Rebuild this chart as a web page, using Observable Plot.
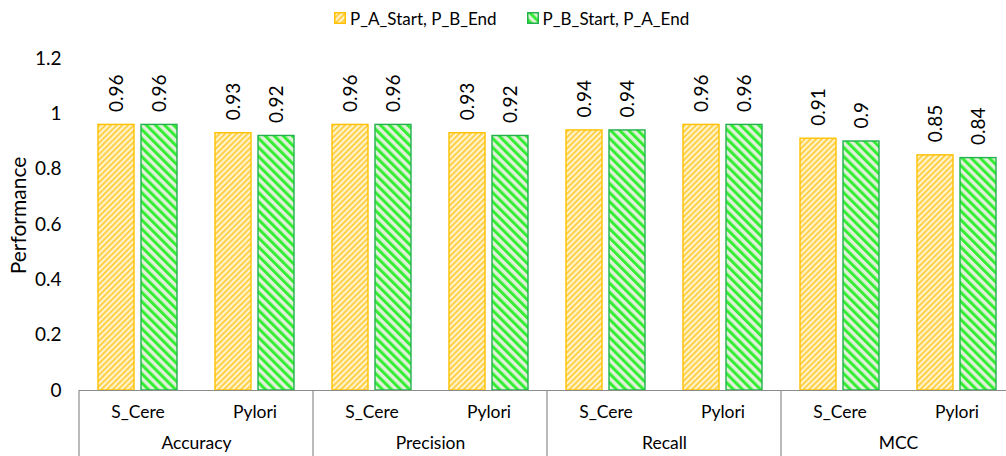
<!DOCTYPE html>
<html>
<head>
<meta charset="utf-8">
<script src="https://cdn.jsdelivr.net/npm/d3@7"></script>
<script src="https://cdn.jsdelivr.net/npm/@observablehq/plot@0.6"></script>
<style>
  html, body { margin: 0; padding: 0; width: 1006px; height: 456px; overflow: hidden; background: #fff; }
  body { font-family: Lato, "Noto Sans", sans-serif; color: #000; }
  #legend { height: 36px; display: flex; align-items: center; padding-left: 334px; font-size: 17px; }
  .item { display: flex; align-items: center; margin-right: 30px; }
  .item svg { margin-right: 4px; }
  #defs { position: absolute; width: 0; height: 0; }
  #chart svg { max-width: none !important; }
</style>
</head>
<body>
<svg id="defs" width="0" height="0">
  <defs>
    <!-- light yellow with fine upward diagonals -->
    <pattern id="pA" patternUnits="userSpaceOnUse" width="4" height="4" patternTransform="rotate(45)">
      <rect width="4" height="4" fill="#FFF2CC"></rect>
      <rect width="1.7" height="4" fill="#FFCC33"></rect>
    </pattern>
    <!-- pale green with wide downward diagonals -->
    <pattern id="pB" patternUnits="userSpaceOnUse" width="6.4" height="6.4" patternTransform="rotate(-45)">
      <rect width="6.4" height="6.4" fill="#E2F0D9"></rect>
      <rect width="3" height="6.4" fill="#33EE33"></rect>
    </pattern>
  </defs>
</svg>
<div id="legend"></div>
<div id="chart"></div>
<script>
const metrics = ["Accuracy", "Precision", "Recall", "MCC"];
const datasets = ["S_Cere", "Pylori"];
const seriesNames = ["P_A_Start, P_B_End", "P_B_Start, P_A_End"];
const seriesA = [0.96, 0.93, 0.96, 0.93, 0.94, 0.96, 0.91, 0.85];
const seriesB = [0.96, 0.92, 0.96, 0.92, 0.94, 0.96, 0.90, 0.84];
const yTicks = [0, 0.2, 0.4, 0.6, 0.8, 1, 1.2];
const yLabel = "Performance";

const fills = ["url(#pA)", "url(#pB)"];
const strokes = ["#FFC000", "#22B14C"];

// One facet per metric/dataset pair
const cats = [];
metrics.forEach(m => datasets.forEach(d => cats.push({key: `${m}|${d}`, metric: m, dataset: d})));
const keys = cats.map(c => c.key);
const rows = [];
cats.forEach((c, i) => {
  rows.push({key: c.key, series: seriesNames[0], value: seriesA[i]});
  rows.push({key: c.key, series: seriesNames[1], value: seriesB[i]});
});
const groupStarts = cats.filter(c => c.dataset === datasets[0]);

// Legend
const legend = d3.select("#legend");
seriesNames.forEach((name, i) => {
  const item = legend.append("div").attr("class", "item");
  const sw = item.append("svg").attr("width", 12).attr("height", 12);
  sw.append("rect").attr("x", 0.75).attr("y", 0.75).attr("width", 10.5).attr("height", 10.5)
    .attr("fill", fills[i]).attr("stroke", strokes[i]).attr("stroke-width", 1.5);
  item.append("span").text(name);
});

const W = 1022, H = 430, mTop = 22, mBottom = 76, mLeft = 78, mRight = 6;
const FS_TICK = 19, FS_VAL = 19, FS_CAT = 17.5, FS_TITLE = 21;

const plot = Plot.plot({
  width: W, height: H,
  marginTop: mTop, marginBottom: mBottom, marginLeft: mLeft, marginRight: mRight,
  style: {fontFamily: "Lato, 'Noto Sans', sans-serif", fontSize: FS_CAT + "px", color: "#000", background: "transparent", overflow: "visible"},
  fx: {domain: keys, padding: 0, axis: null},
  x: {domain: seriesNames, paddingInner: 0.172, paddingOuter: 0.431, axis: null},
  y: {domain: [0, 1.2]},
  marks: [
    Plot.axisY({ticks: yTicks, tickSize: 0, tickPadding: 18, tickFormat: d3.format("~g"), fontSize: FS_TICK, label: null}),
    Plot.text([{key: keys[0], label: yLabel}], {fx: "key", text: "label", frameAnchor: "left",
      textAnchor: "middle", rotate: -90, dx: -60, dy: -9, fontSize: FS_TITLE, fill: "#000"}),
    Plot.barY(rows.filter(r => r.series === seriesNames[0]),
      {fx: "key", x: "series", y: "value", fill: fills[0], stroke: strokes[0], strokeWidth: 1.4}),
    Plot.barY(rows.filter(r => r.series === seriesNames[1]),
      {fx: "key", x: "series", y: "value", fill: fills[1], stroke: strokes[1], strokeWidth: 1.4}),
    Plot.ruleY([0], {stroke: "#8c8c8c", strokeWidth: 1.2}),
    Plot.text(rows, {fx: "key", x: "series", y: "value", text: d => String(d.value),
      rotate: -90, textAnchor: "start", dy: -13, fontSize: FS_VAL, fill: "#000"}),
    Plot.text(cats, {fx: "key", text: "dataset", frameAnchor: "bottom", dy: 27, fontSize: FS_CAT, fill: "#000"}),
    Plot.text(groupStarts, {fx: "key", text: "metric", frameAnchor: "bottom-right", textAnchor: "middle", dy: 58, fontSize: FS_CAT, fill: "#000"})
  ]
});

document.getElementById("chart").appendChild(plot);

// Category separators below the baseline, placed from the facet scale
const fx = plot.scale("fx");
const bw = fx.bandwidth;
const bounds = groupStarts.map(c => fx.apply(c.key));
bounds.push(fx.apply(keys[keys.length - 1]) + bw);
d3.select(plot).append("g")
  .selectAll("line").data(bounds).join("line")
  .attr("x1", d => d).attr("x2", d => d)
  .attr("y1", H - mBottom).attr("y2", H)
  .attr("stroke", "#8c8c8c").attr("stroke-width", 1.2);
</script>
</body>
</html>
